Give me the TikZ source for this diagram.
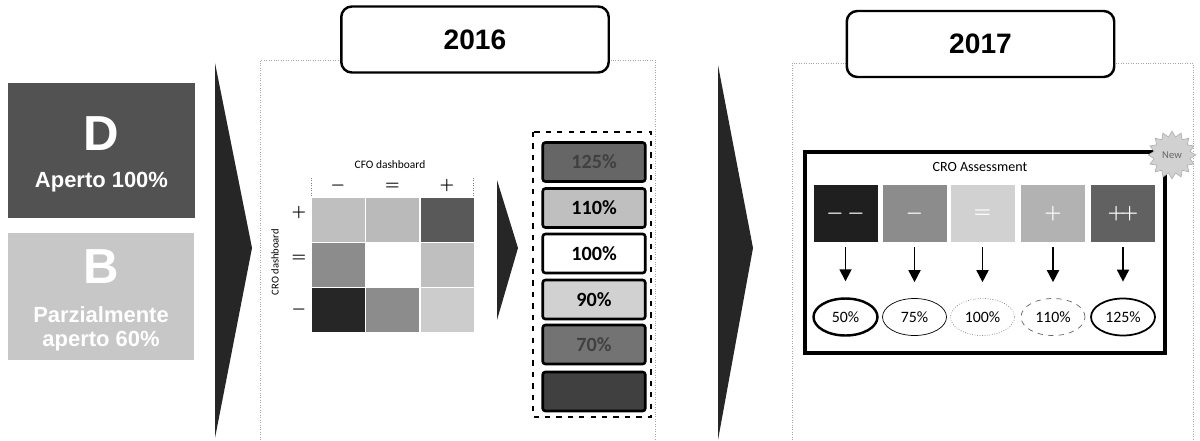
\documentclass[tikz,border=0pt]{standalone}
\usepackage{fontspec}
\setmainfont{Liberation Sans}
\newfontfamily\calfont{Carlito}
\usetikzlibrary{positioning}
\usetikzlibrary{shapes.geometric}
\usetikzlibrary{arrows.meta}

\begin{document}
\begin{tikzpicture}[x=0.02cm, y=-0.02cm,
  yearbox/.style={rectangle, draw=black, line width=1.4pt, fill=white, rounded corners=6pt, minimum width=5.35cm, minimum height=1.32cm, font=\fontsize{16}{18}\selectfont\bfseries},
  panel/.style={gray!70, densely dotted, thin},
  chevron/.style={fill=black!85},
  optbox/.style={rectangle, minimum width=3.74cm},
  opttext/.style={text=white, align=center, font=\bfseries\fontsize{12.5}{13.5}\selectfont},
  cell/.style={rectangle, draw=white, thin, minimum width=1.08cm, minimum height=0.9cm},
  pctbox/.style={rectangle, draw=black, line width=1.5pt, rounded corners=1.5pt, minimum width=2.05cm, minimum height=0.78cm, font=\calfont\fontsize{11.5}{13}\selectfont\bfseries},
  grade/.style={rectangle, minimum width=1.28cm, minimum height=1.14cm, text=white, font=\fontsize{11}{12}\selectfont\bfseries\boldmath},
  payout/.style={ellipse, draw=black, inner sep=0pt, minimum width=1.28cm, minimum height=0.74cm, font=\calfont\fontsize{9}{10}\selectfont},
  down/.style={-{Triangle[length=2.4mm, width=2.4mm]}, line width=1pt, shorten <=0.1cm, shorten >=0.32cm}
]

\newcommand\bigltr{\fontsize{28}{30}\selectfont}

\useasboundingbox (0,0) rectangle (1200,440);

%\draw[step=50, gray, very thin, dotted] (0,0) grid (1200,440);

% options on the left
\node at (101.5,150.5) [optbox, fill=black!68, minimum height=2.7cm] (optD) {};
\node at (101.5,134) [opttext] (letD) {\bigltr D};
\node at (101.5,182) [opttext] (txtD) {Aperto 100\%};
\node at (101,296.5) [optbox, fill=black!22, minimum height=2.54cm] (optB) {};
\node at (101,267) [opttext] (letB) {\bigltr B};
\node at (101,329) [opttext] (txtB) {Parzialmente\\aperto 60\%};

\fill[chevron] (215,63) -- (252,248) -- (215,438) -- cycle;

% 2016
\draw[panel] (260,440) -- (260,60) -- (655,60) -- (655,440);
\node at (475,39.5) [yearbox] (y2016) {2016};

\node at (390,165) [font=\calfont\fontsize{6.5}{7}\selectfont] (cfo) {CFO dashboard};
\node at (275,262) [rotate=90, font=\calfont\fontsize{6}{7}\selectfont] (cro) {CRO dashboard};
\draw[gray, densely dotted] (311,178) -- (311,197);
\draw[gray, densely dotted] (473,178) -- (473,197);

\node at (338,186) [font=\bfseries\boldmath\small] (colm) {$-$};
\node at (392.5,186) [font=\bfseries\boldmath\small] (cole) {$=$};
\node at (447,186) [font=\bfseries\boldmath\small] (colp) {$+$};
\node at (299,213) [font=\bfseries\boldmath\small] (rowp) {$+$};
\node at (299,258) [font=\bfseries\boldmath\small] (rowe) {$=$};
\node at (299,310) [font=\bfseries\boldmath\small] (rowm) {$-$};

\node at (338,219.5) [cell, fill=black!25] (c11) {};
\node at (392.5,219.5) [cell, fill=black!27] (c12) {};
\node at (447,219.5) [cell, fill=black!65] (c13) {};
\node at (338,264.5) [cell, fill=black!45] (c21) {};
\node at (392.5,264.5) [cell, fill=white] (c22) {};
\node at (447,264.5) [cell, fill=black!25] (c23) {};
\node at (338,309.5) [cell, fill=black!85] (c31) {};
\node at (392.5,309.5) [cell, fill=black!45] (c32) {};
\node at (447,309.5) [cell, fill=black!20] (c33) {};

\fill[chevron] (497,180) -- (518,248) -- (497,320) -- cycle;

\draw[black, line width=1.6pt, dash pattern=on 3pt off 3.5pt] (533,132) rectangle (651,417);
\node at (594,162) [pctbox, fill=black!60, text=black!75] (p125) {125\%};
\node at (594,208) [pctbox, fill=black!25] (p110) {110\%};
\node at (594,253.5) [pctbox, fill=white] (p100) {100\%};
\node at (594,299.5) [pctbox, fill=black!18] (p90) {90\%};
\node at (594,344.5) [pctbox, fill=black!55, text=black!75] (p70) {70\%};
\node at (594,391.5) [pctbox, fill=black!75] (p50) {};

\fill[chevron] (718,65) -- (753,248) -- (718,440) -- cycle;

% 2017
\draw[panel] (792,440) -- (792,63) -- (1193,63) -- (1193,440);
\node at (980.5,44) [yearbox] (y2017) {2017};

\node at (985,252.5) [rectangle, draw=black, line width=1.8pt, fill=white, minimum width=7.2cm, minimum height=4.02cm] (assess) {};
\node at (980,167) [font=\calfont\fontsize{8}{9}\selectfont] (assesstitle) {CRO Assessment};
\node at (1172,155) [star, star points=16, star point ratio=1.3, draw=gray!60, fill=black!18, minimum size=0.95cm, inner sep=0pt, font=\calfont\fontsize{6}{7}\selectfont, text=black!60] (new) {New};

\node at (845.5,213.5) [grade, fill=black!88] (g1) {$-\,-$};
\node at (914.5,213.5) [grade, fill=black!45] (g2) {$-$};
\node at (982.5,213.5) [grade, fill=black!18] (g3) {$=$};
\node at (1053,213.5) [grade, fill=black!30] (g4) {$+$};
\node at (1123,213.5) [grade, fill=black!62] (g5) {$+\!+$};

\node at (845.5,317) [payout, line width=1.4pt] (r1) {50\%};
\node at (914.5,317) [payout, thin] (r2) {75\%};
\node at (982.5,317) [payout, densely dotted, draw=gray] (r3) {100\%};
\node at (1053,317) [payout, dashed, draw=gray!80!black] (r4) {110\%};
\node at (1123,317) [payout, line width=1pt] (r5) {125\%};

\draw[down] (g1) -- (r1);
\draw[down] (g2) -- (r2);
\draw[down] (g3) -- (r3);
\draw[down] (g4) -- (r4);
\draw[down] (g5) -- (r5);

\end{tikzpicture}
\end{document}
